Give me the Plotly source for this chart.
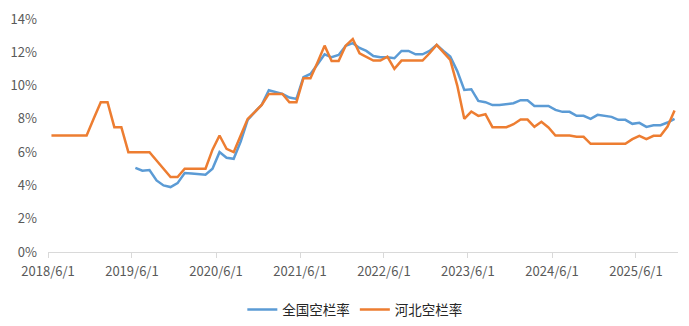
import pandas as pd
import plotly.graph_objects as go

# Monthly observations from 2018/6 to 2025/11
months = pd.date_range("2018-06-01", "2025-11-01", freq="MS").strftime("%Y-%m-%d").tolist()

national = [None] * 12 + [
    5.05, 4.88, 4.92, 4.3, 4.0, 3.9, 4.14, 4.75, 4.71, 4.66, 4.64, 5.0,
    6.0, 5.66, 5.6, 6.64, 7.94, 8.4, 8.84, 9.72, 9.6, 9.5, 9.28, 9.2,
    10.5, 10.7, 11.28, 11.88, 11.7, 11.84, 12.38, 12.55, 12.26, 12.08, 11.78, 11.7,
    11.7, 11.64, 12.08, 12.08, 11.88, 11.88, 12.08, 12.44, 12.08, 11.74, 10.87, 9.74,
    9.78, 9.08, 9.0, 8.83, 8.83, 8.88, 8.94, 9.12, 9.12, 8.78, 8.78, 8.78,
    8.54, 8.42, 8.42, 8.18, 8.18, 8.0, 8.24, 8.18, 8.12, 7.94, 7.94, 7.7,
    7.76, 7.52, 7.62, 7.62, 7.78, 8.0,
]

hebei = [
    7.0, 7.0, 7.0, 7.0, 7.0, 7.0, 8.0, 9.0, 9.0, 7.5, 7.5, 6.0,
    6.0, 6.0, 6.0, 5.5, 5.0, 4.5, 4.5, 5.0, 5.0, 5.0, 5.0, 6.15,
    7.0, 6.2, 6.0, 7.0, 8.0, 8.4, 8.84, 9.5, 9.5, 9.5, 9.0, 9.0,
    10.44, 10.44, 11.4, 12.4, 11.48, 11.48, 12.4, 12.8, 11.94, 11.7, 11.5, 11.5,
    11.74, 11.0, 11.5, 11.5, 11.5, 11.5, 11.94, 12.44, 12.0, 11.54, 10.0, 8.0,
    8.44, 8.18, 8.28, 7.5, 7.5, 7.5, 7.68, 7.96, 7.96, 7.52, 7.82, 7.48,
    7.0, 7.0, 7.0, 6.92, 6.92, 6.5, 6.5, 6.5, 6.5, 6.5, 6.5, 6.78,
    6.98, 6.78, 6.98, 6.98, 7.54, 8.5,
]

series_names = ["全国空栏率", "河北空栏率"]
series_colors = ["#5B9BD5", "#ED7D31"]

x_tick_vals = ["2018-06-01", "2019-06-01", "2020-06-01", "2021-06-01",
               "2022-06-01", "2023-06-01", "2024-06-01", "2025-06-01"]
x_tick_text = ["2018/6/1", "2019/6/1", "2020/6/1", "2021/6/1",
               "2022/6/1", "2023/6/1", "2024/6/1", "2025/6/1"]
y_tick_vals = [0, 2, 4, 6, 8, 10, 12, 14]
y_tick_text = ["0%", "2%", "4%", "6%", "8%", "10%", "12%", "14%"]

fig = go.Figure()
for name, vals, col in zip(series_names, [national, hebei], series_colors):
    fig.add_trace(go.Scatter(
        x=months, y=vals, name=name, mode="lines",
        line=dict(color=col, width=2.5),
        xperiod="M1", xperiodalignment="middle",
        connectgaps=False,
    ))

font_family = "Noto Sans CJK SC, Noto Sans, sans-serif"
fig.update_layout(
    width=689, height=326,
    margin=dict(l=48, r=11, t=19, b=74),
    paper_bgcolor="white", plot_bgcolor="white",
    font=dict(family=font_family, size=13, color="#595959"),
    showlegend=True,
    legend=dict(
        orientation="h", xref="container", yref="container",
        x=0.515, xanchor="center", y=0.05, yanchor="middle",
        font=dict(size=13.5, color="#262626"),
        itemwidth=30, tracegroupgap=0, bgcolor="rgba(0,0,0,0)",
    ),
    xaxis=dict(
        type="date", automargin=False,
        range=["2018-06-01", "2025-12-01"],
        tickvals=x_tick_vals, ticktext=x_tick_text,
        showgrid=False, zeroline=False,
        showline=True, linecolor="#D9D9D9", linewidth=1,
        ticks="outside", ticklen=5, tickcolor="#D9D9D9",
        ticklabelstandoff=2,
        tickfont=dict(size=13, color="#595959"),
    ),
    yaxis=dict(
        range=[0, 14], automargin=False,
        tickvals=y_tick_vals, ticktext=y_tick_text,
        showgrid=False, zeroline=False, showline=False,
        ticks="", ticklabelstandoff=10,
        tickfont=dict(size=13, color="#595959"),
    ),
)

fig.write_html("out.html")
